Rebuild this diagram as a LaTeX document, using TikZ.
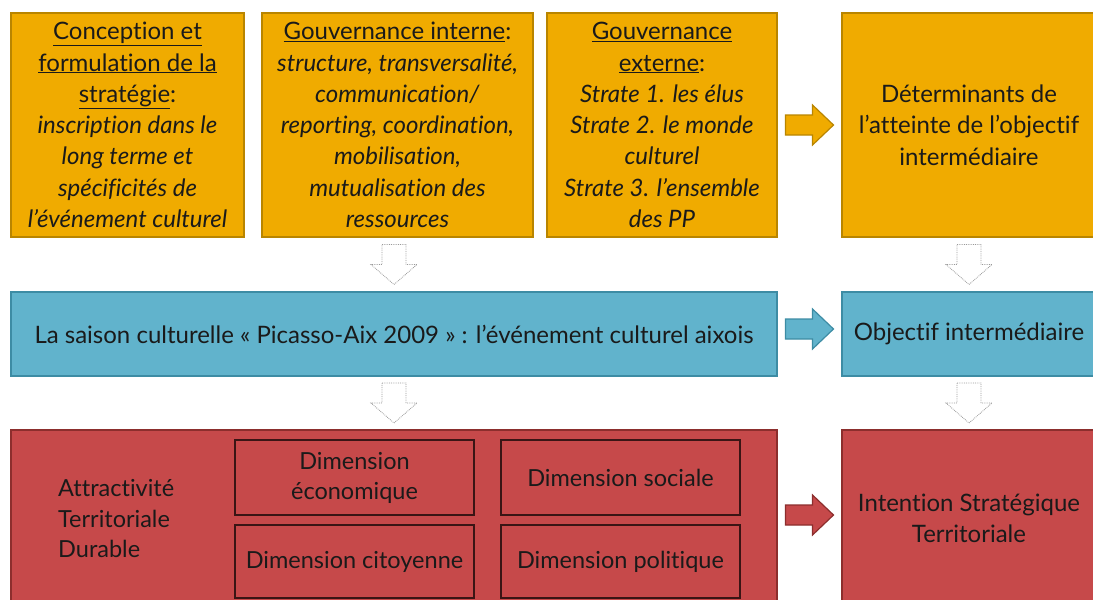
\documentclass[tikz,border=0pt]{standalone}
\usepackage{fontspec}
\setmainfont{Lato}[Ligatures=NoCommon]
\usetikzlibrary{calc}
\newcommand{\myul}[1]{\underline{#1}}
\definecolor{orfill}{HTML}{F0AB00}
\definecolor{ordraw}{HTML}{B98500}
\definecolor{blfill}{HTML}{61B3CC}
\definecolor{bldraw}{HTML}{3D8CA4}
\definecolor{rdfill}{HTML}{C6494A}
\definecolor{rddraw}{HTML}{8C2E2D}
\definecolor{inndraw}{HTML}{3A1515}
\definecolor{txt}{HTML}{1A1A1A}
\begin{document}
\begin{tikzpicture}[x=1pt,y=-1pt,
  box/.style={draw, line width=1.5pt, inner sep=0pt, text=txt, align=center,
    font=\fontsize{24}{31.3}\selectfont},
  orbox/.style={box, fill=orfill, draw=ordraw},
  blbox/.style={box, fill=blfill, draw=bldraw},
  rdbox/.style={box, fill=rdfill, draw=rddraw},
  dimbox/.style={box, fill=rdfill, draw=inndraw, line width=1.2pt,
    minimum width=239, font=\fontsize{23.5}{30}\selectfont},
  plain/.style={text=txt, inner sep=0pt, font=\fontsize{23.5}{30.5}\selectfont},
  rarrow/.pic={\draw[pic actions, line width=1.2pt, line join=miter]
    (-24,-10) -- (3,-10) -- (3,-20) -- (24,0) -- (3,20) -- (3,10) -- (-24,10) -- cycle;},
  darrow/.pic={\draw[fill=white, draw=gray!80, densely dotted, line width=0.8pt]
    (-12,-20) -- (12,-20) -- (12,0) -- (23,0) -- (0,20) -- (-23,0) -- (-12,0) -- cycle;}
]
\useasboundingbox (0,0) rectangle (1093,600);

% top row
\node[orbox, minimum width=233, minimum height=224] (b1) at (127.5,125)
  {\myul{Conception et}\\ \myul{formulation de la}\\ \myul{stratégie}:\\
   \textit{inscription dans le}\\ \textit{long terme et}\\ \textit{spécificités de}\\
   \textit{l’événement culturel}};
\node[orbox, minimum width=271, minimum height=224] (b2) at (397.5,125)
  {\myul{Gouvernance interne}:\\ \textit{structure, transversalité,}\\
   \textit{communication/}\\ \textit{reporting, coordination,}\\ \textit{mobilisation,}\\
   \textit{mutualisation des}\\ \textit{ressources}};
\node[orbox, minimum width=230, minimum height=224] (b3) at (662,125)
  {\myul{Gouvernance}\\ \myul{externe}:\\ \textit{Strate 1. les élus}\\
   \textit{Strate 2. le monde}\\ \textit{culturel}\\ \textit{Strate 3. l’ensemble}\\
   \textit{des PP}};
\node[orbox, minimum width=254, minimum height=224] (b4) at (969,125)
  {Déterminants de\\ l’atteinte de l’objectif\\ intermédiaire};

% middle row
\node[blbox, minimum width=766, minimum height=84] (bl1) at (394,334)
  {La saison culturelle « Picasso-Aix 2009 » : l’événement culturel aixois};
\node[blbox, minimum width=254, minimum height=84] (bl2) at (969,334)
  {Objectif intermédiaire};

% bottom row
\node[rdbox, minimum width=766, minimum height=176] (rd1) at (394,518) {};
\node[rdbox, minimum width=254, minimum height=176] (rd2) at (969,518)
  {Intention Stratégique\\ Territoriale};
\node[plain, anchor=west, align=left] (atd) at (58,519)
  {Attractivité\\ Territoriale\\ Durable};
\node[dimbox, minimum height=75] (d1) at (354.5,477.5) {Dimension\\ économique};
\node[dimbox, minimum height=75] (d2) at (620.5,477.5) {Dimension sociale};
\node[dimbox, minimum height=73] (d3) at (354.5,561.5) {Dimension citoyenne};
\node[dimbox, minimum height=73] (d4) at (620.5,561.5) {Dimension politique};

% block arrows
\pic[fill=orfill, draw=ordraw] at ($(b3.east)!0.5!(b4.west)$) {rarrow};
\pic[fill=blfill, draw=bldraw] at ($(bl1.east)!0.5!(bl2.west)+(0,-5)$) {rarrow};
\pic[fill=rdfill, draw=rddraw] at ($(rd1.east)!0.5!(rd2.west)+(0,-3)$) {rarrow};

% dotted down arrows
\pic at ($(bl1.north)!0.5!(bl1.north|-b2.south)$) {darrow};
\pic at ($(b4.south)!0.5!(bl2.north)$) {darrow};
\pic at ($(bl1.south)!0.5!(rd1.north)$) {darrow};
\pic at ($(bl2.south)!0.5!(rd2.north)$) {darrow};
\end{tikzpicture}
\end{document}
